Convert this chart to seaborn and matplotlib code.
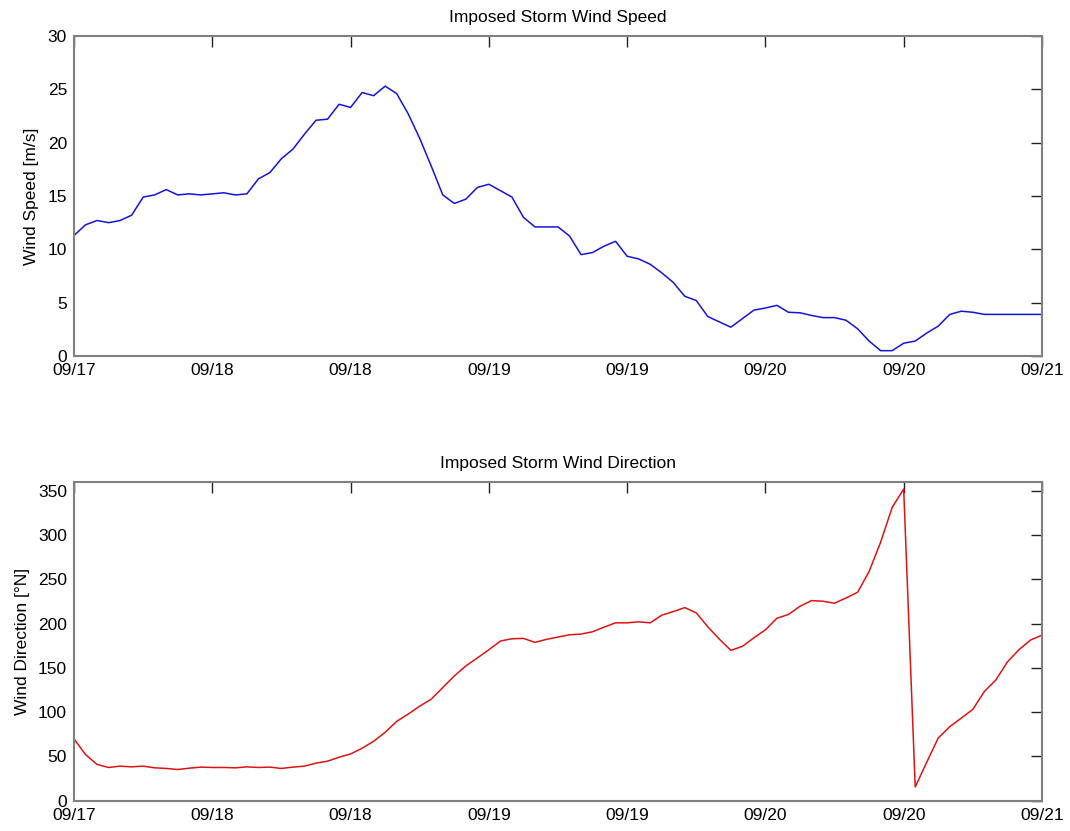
import numpy as np
import pandas as pd
import matplotlib
matplotlib.use("Agg")
import matplotlib.pyplot as plt
import seaborn as sns

# Hourly samples starting 09/17 12:00
wind_speed = [11.3, 12.3, 12.7, 12.5, 12.7, 13.2, 14.9, 15.1, 15.6, 15.1, 15.2, 15.1,
              15.2, 15.3, 15.1, 15.2, 16.6, 17.2, 18.5, 19.4, 20.8, 22.1, 22.2, 23.6,
              23.3, 24.7, 24.4, 25.3, 24.6, 22.7, 20.4, 17.8, 15.1, 14.3, 14.7, 15.8,
              16.1, 15.5, 14.9, 13.0, 12.1, 12.1, 12.1, 11.25, 9.5, 9.7, 10.3, 10.75,
              9.35, 9.1, 8.6, 7.8, 6.9, 5.6, 5.2, 3.7, 3.2, 2.7, 3.5, 4.3,
              4.5, 4.75, 4.1, 4.05, 3.8, 3.6, 3.6, 3.35, 2.55, 1.4, 0.5, 0.5,
              1.2, 1.4, 2.15, 2.8, 3.9, 4.2, 4.1, 3.9, 3.9, 3.9, 3.9, 3.9, 3.9]

wind_dir = [69.7, 52.0, 40.9, 37.5, 39.0, 38.2, 39.0, 37.1, 36.4, 35.2, 36.7, 37.9,
            37.5, 37.5, 37.1, 38.2, 37.5, 37.9, 36.4, 37.9, 39.0, 42.4, 44.6, 49.1,
            52.8, 59.2, 67.1, 77.2, 89.6, 97.8, 106.8, 114.7, 127.8, 140.9, 152.2, 161.2,
            170.5, 180.3, 182.9, 183.3, 178.8, 182.2, 184.8, 187.4, 188.2, 190.8, 196.0, 200.9,
            200.9, 202.0, 200.9, 209.5, 213.6, 218.1, 212.1, 196.4, 182.5, 169.8, 174.3, 184.0,
            193.0, 206.1, 210.3, 219.6, 226.0, 225.3, 223.0, 229.0, 235.4, 259.0, 292.0, 331.3,
            352.0, 15.4, 43.5, 70.8, 83.6, 93.3, 103.1, 123.3, 136.4, 156.7, 170.5, 181.4, 187.0]

hours = list(range(len(wind_speed)))
tick_hours = [0, 12, 24, 36, 48, 60, 72, 84]
tick_labels = ["09/17", "09/18", "09/18", "09/19", "09/19", "09/20", "09/20", "09/21"]

df = pd.DataFrame({"hour": hours, "speed": wind_speed, "direction": wind_dir})

sns.set_style("white")
plt.rcParams["font.family"] = ["Liberation Sans", "DejaVu Sans"]
plt.rcParams["text.color"] = "black"
plt.rcParams["axes.labelcolor"] = "black"

fig = plt.figure(figsize=(10.7, 8.31), dpi=100)
ax1 = fig.add_axes([0.0692, 0.5716, 0.9046, 0.3851])
ax2 = fig.add_axes([0.0692, 0.0365, 0.9046, 0.3835])

sns.lineplot(data=df, x="hour", y="speed", ax=ax1, color="#1414d8", lw=1.1)
sns.lineplot(data=df, x="hour", y="direction", ax=ax2, color="#dc1414", lw=1.1)

for ax in (ax1, ax2):
    ax.set_xlim(0, 84)
    ax.set_xticks(tick_hours)
    ax.set_xticklabels(tick_labels)
    ax.set_xlabel("")
    ax.tick_params(direction="in", length=8, width=1, color="#222222",
                   top=True, right=True, labelsize=12.5, pad=5, labelcolor="black")
    for s in ax.spines.values():
        s.set_color("#808080")
        s.set_linewidth(1.5)
        s.set_visible(True)

ax1.set_ylim(0, 30)
ax1.set_yticks([0, 5, 10, 15, 20, 25, 30])
ax1.set_ylabel("Wind Speed [m/s]", fontsize=12.5, labelpad=6, color="black")
ax1.set_title("Imposed Storm Wind Speed", fontsize=12.5, pad=10, color="black")

ax2.set_ylim(0, 360)
ax2.set_yticks([0, 50, 100, 150, 200, 250, 300, 350])
ax2.set_ylabel("Wind Direction [°N]", fontsize=12.5, labelpad=6, color="black")
ax2.set_title("Imposed Storm Wind Direction", fontsize=12.5, pad=10, color="black")

fig.savefig("out.png", dpi=100, facecolor="white")
